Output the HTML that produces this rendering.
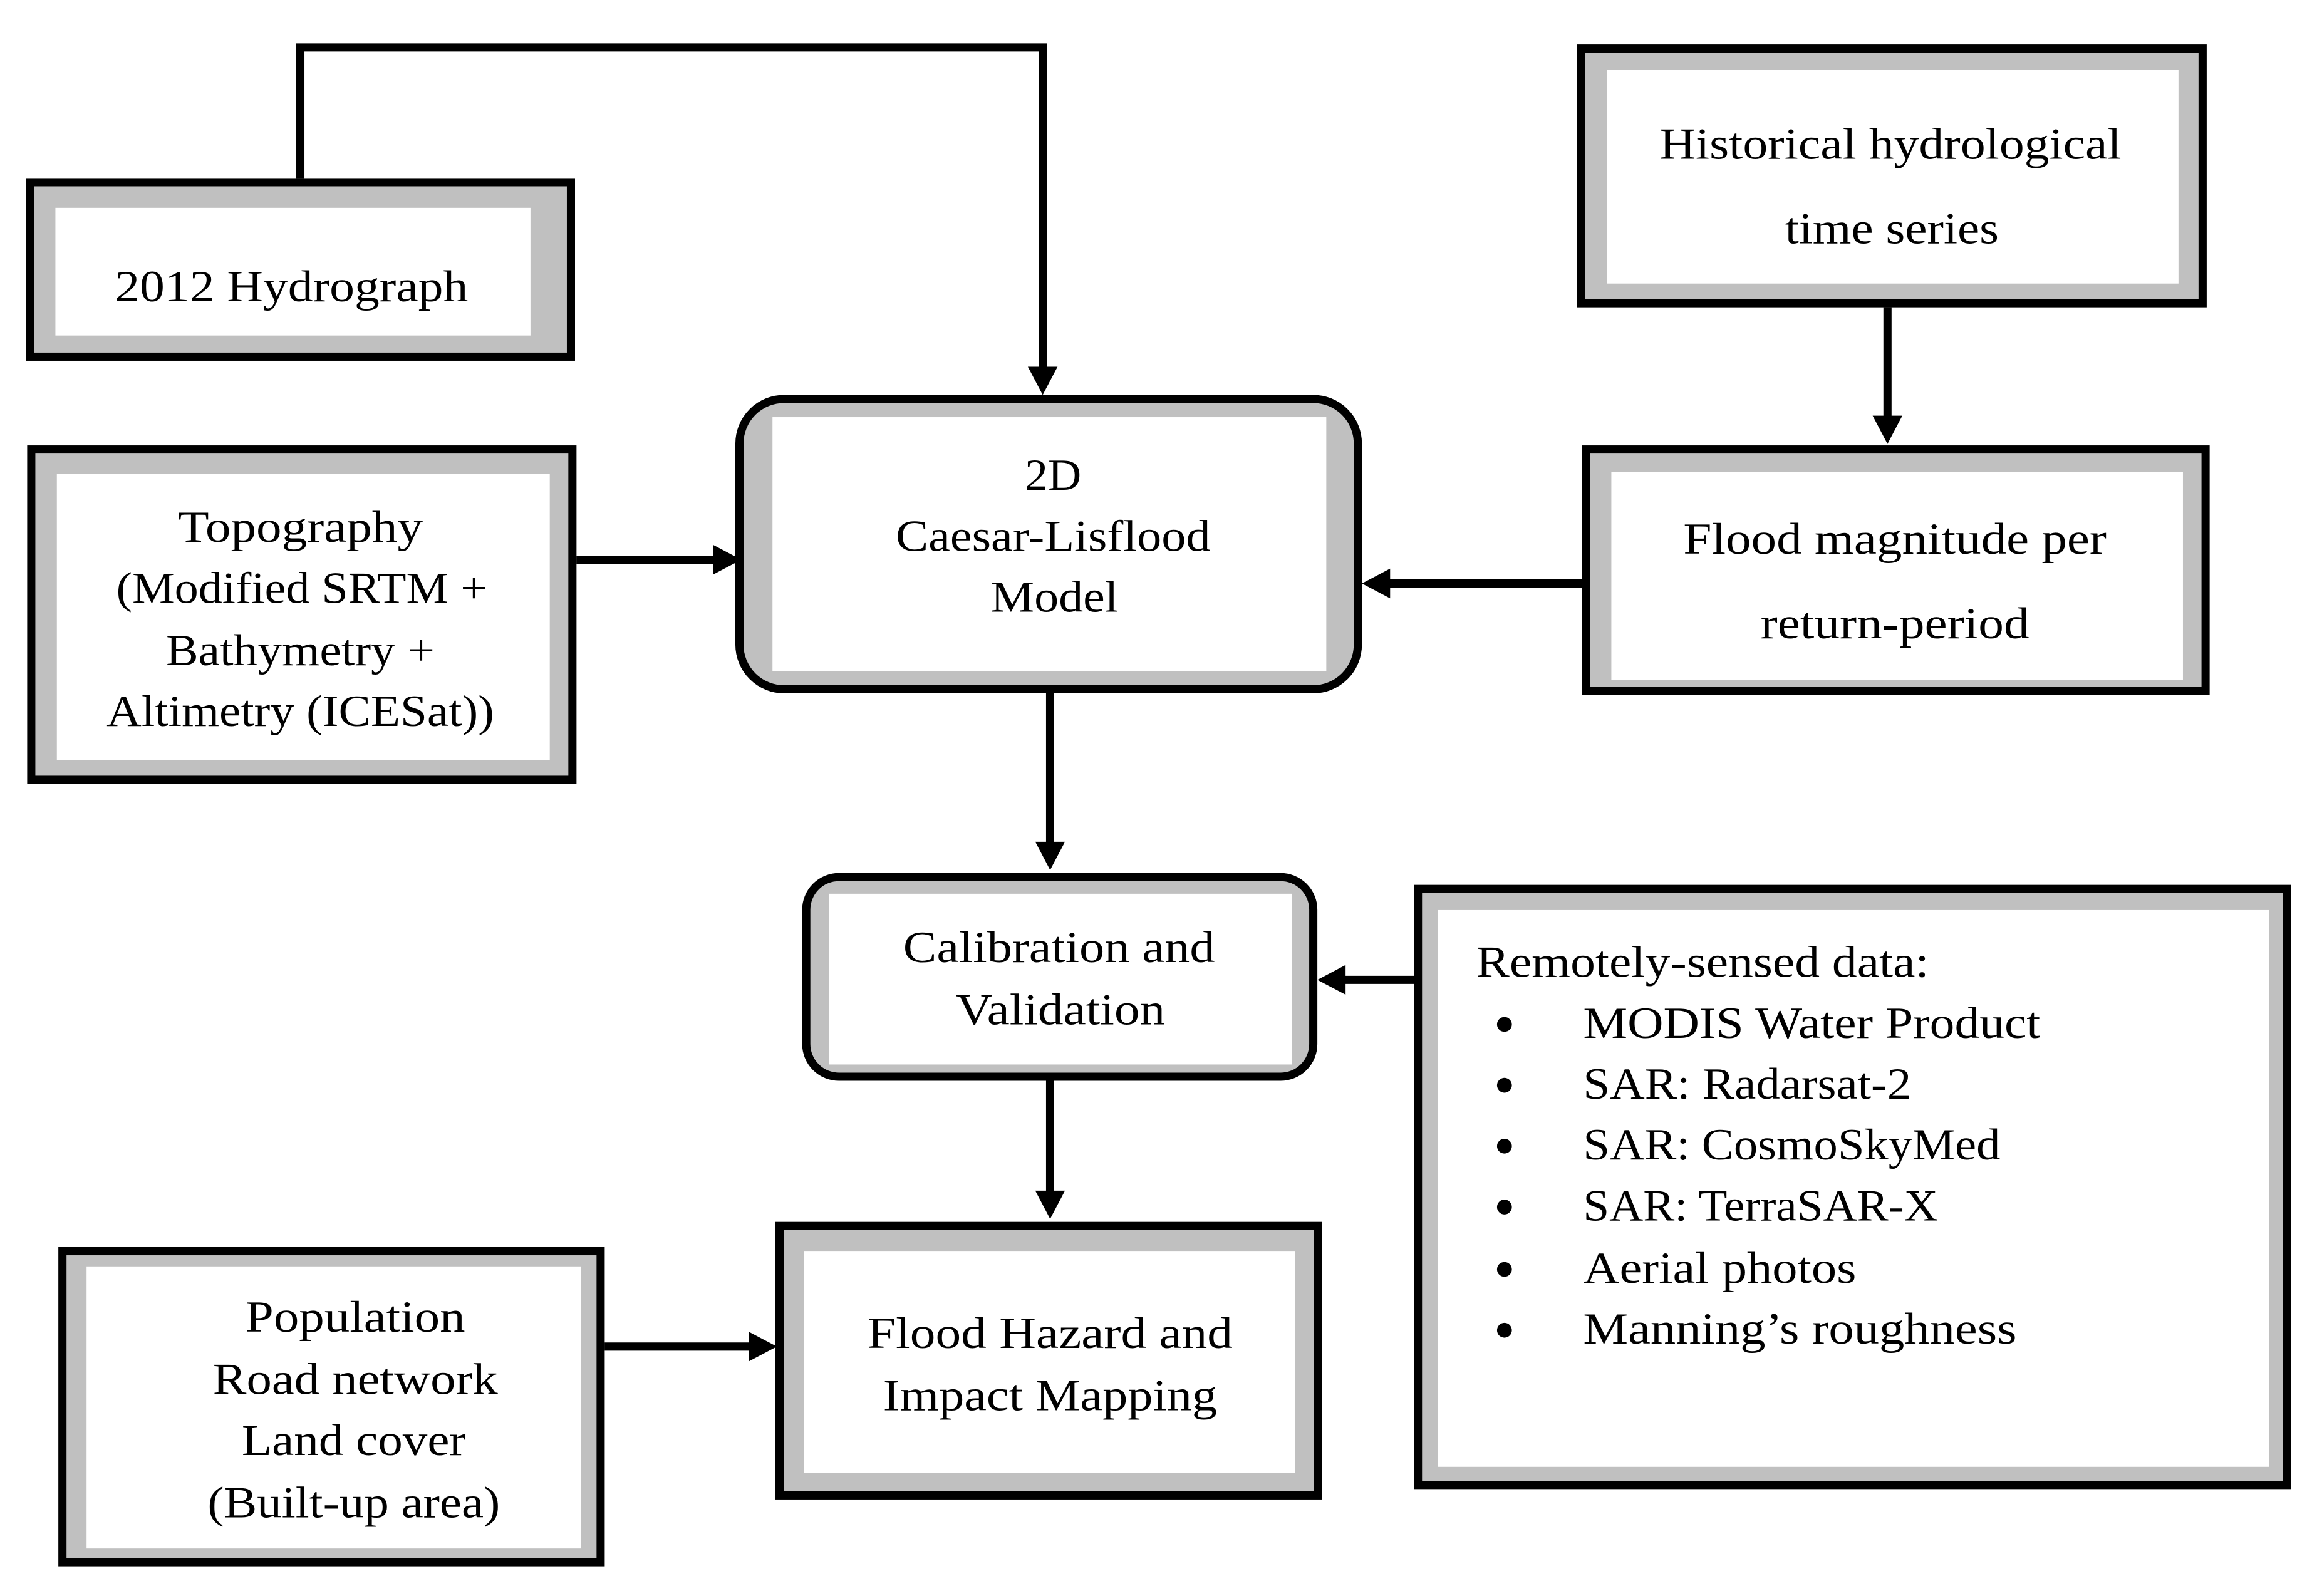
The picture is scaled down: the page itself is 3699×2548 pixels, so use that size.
<!DOCTYPE html>
<html><head><meta charset="utf-8"><style>
html,body{margin:0;padding:0;background:#fff;}
svg{display:block;}
text{font-family:"Liberation Serif",serif;font-size:30px;fill:#000;}
</style></head><body>
<svg width="3699" height="2548" viewBox="0 0 1560 1075" xmlns="http://www.w3.org/2000/svg">
<rect x="0" y="0" width="1560" height="1075" fill="#fff"/>
<g stroke="#000" stroke-width="5.5" fill="none">
<!-- connectors -->
<polyline points="202,120 202,32 702,32 702,248"/>
<line x1="388" y1="377" x2="482" y2="377"/>
<line x1="1271" y1="207" x2="1271" y2="281"/>
<line x1="1065" y1="393" x2="934" y2="393"/>
<line x1="707" y1="467" x2="707" y2="568"/>
<line x1="952" y1="660" x2="904" y2="660"/>
<line x1="707" y1="728" x2="707" y2="803"/>
<line x1="407" y1="907" x2="505" y2="907"/>
</g>
<g fill="#000">
<polygon points="692,247 712,247 702,266"/>
<polygon points="480,367 480,387 499,377"/>
<polygon points="1261,280 1281,280 1271,299"/>
<polygon points="936,383 936,403 917,393"/>
<polygon points="697,567 717,567 707,586"/>
<polygon points="906,650 906,670 887,660"/>
<polygon points="697,802 717,802 707,821"/>
<polygon points="504,897 504,917 523,907"/>
</g>
<!-- boxes -->
<g stroke="#000" stroke-width="5.5" fill="#c0c0c0">
<rect x="19.75" y="122.75" width="364.5" height="117.5"/>
<rect x="20.75" y="302.75" width="364.5" height="222.5"/>
<rect x="497.75" y="268.75" width="416.5" height="195.5" rx="30"/>
<rect x="1064.75" y="32.75" width="418.5" height="171.5"/>
<rect x="1067.75" y="302.75" width="417.5" height="162.5"/>
<rect x="542.75" y="590.75" width="341.5" height="134.5" rx="22"/>
<rect x="524.75" y="825.75" width="362.5" height="181.5"/>
<rect x="41.75" y="842.75" width="362.5" height="209.5"/>
<rect x="954.75" y="598.75" width="585.5" height="401.5"/>
</g>
<g fill="#fff">
<rect x="37" y="140" width="320" height="86"/>
<rect x="38" y="319" width="332" height="193"/>
<rect x="520" y="281" width="373" height="171"/>
<rect x="1082" y="47" width="385" height="144"/>
<rect x="1085" y="318" width="385" height="140"/>
<rect x="558" y="602" width="312" height="115"/>
<rect x="541" y="843" width="331" height="149"/>
<rect x="58" y="853" width="333" height="190"/>
<rect x="968" y="613" width="560" height="375"/>
</g>
<!-- text -->
<g text-anchor="middle" lengthAdjust="spacingAndGlyphs">
<text x="196" y="203" textLength="238" lengthAdjust="spacingAndGlyphs">2012 Hydrograph</text>
<text x="202" y="365" textLength="165" lengthAdjust="spacingAndGlyphs">Topography</text>
<text x="203" y="406" textLength="250" lengthAdjust="spacingAndGlyphs">(Modified SRTM +</text>
<text x="202" y="448" textLength="181" lengthAdjust="spacingAndGlyphs">Bathymetry +</text>
<text x="202" y="489" textLength="261" lengthAdjust="spacingAndGlyphs">Altimetry (ICESat))</text>
<text x="709" y="330" textLength="38" lengthAdjust="spacingAndGlyphs">2D</text>
<text x="709" y="371" textLength="212" lengthAdjust="spacingAndGlyphs">Caesar-Lisflood</text>
<text x="710" y="412" textLength="86" lengthAdjust="spacingAndGlyphs">Model</text>
<text x="1273" y="107" textLength="311" lengthAdjust="spacingAndGlyphs">Historical hydrological</text>
<text x="1274" y="164" textLength="144" lengthAdjust="spacingAndGlyphs">time series</text>
<text x="1276" y="373" textLength="285" lengthAdjust="spacingAndGlyphs">Flood magnitude per</text>
<text x="1276" y="430" textLength="181" lengthAdjust="spacingAndGlyphs">return-period</text>
<text x="713" y="648" textLength="210" lengthAdjust="spacingAndGlyphs">Calibration and</text>
<text x="714" y="690" textLength="141" lengthAdjust="spacingAndGlyphs">Validation</text>
<text x="707" y="908" textLength="246" lengthAdjust="spacingAndGlyphs">Flood Hazard and</text>
<text x="707" y="950" textLength="225" lengthAdjust="spacingAndGlyphs">Impact Mapping</text>
<text x="239" y="897" textLength="148" lengthAdjust="spacingAndGlyphs">Population</text>
<text x="239" y="939" textLength="192" lengthAdjust="spacingAndGlyphs">Road network</text>
<text x="238" y="980" textLength="151" lengthAdjust="spacingAndGlyphs">Land cover</text>
<text x="238" y="1022" textLength="197" lengthAdjust="spacingAndGlyphs">(Built-up area)</text>
</g>
<text x="994" y="658" textLength="305" lengthAdjust="spacingAndGlyphs">Remotely-sensed data:</text>
<g>
<text x="1066" y="699" textLength="308" lengthAdjust="spacingAndGlyphs">MODIS Water Product</text>
<text x="1066" y="740" textLength="221" lengthAdjust="spacingAndGlyphs">SAR: Radarsat-2</text>
<text x="1066" y="781" textLength="281" lengthAdjust="spacingAndGlyphs">SAR: CosmoSkyMed</text>
<text x="1066" y="822" textLength="239" lengthAdjust="spacingAndGlyphs">SAR: TerraSAR-X</text>
<text x="1066" y="864" textLength="184" lengthAdjust="spacingAndGlyphs">Aerial photos</text>
<text x="1066" y="905" textLength="292" lengthAdjust="spacingAndGlyphs">Manning’s roughness</text>
</g>
<g fill="#000">
<circle cx="1013" cy="690" r="5"/>
<circle cx="1013" cy="731" r="5"/>
<circle cx="1013" cy="772" r="5"/>
<circle cx="1013" cy="813" r="5"/>
<circle cx="1013" cy="855" r="5"/>
<circle cx="1013" cy="896" r="5"/>
</g>
</svg>
</body></html>
